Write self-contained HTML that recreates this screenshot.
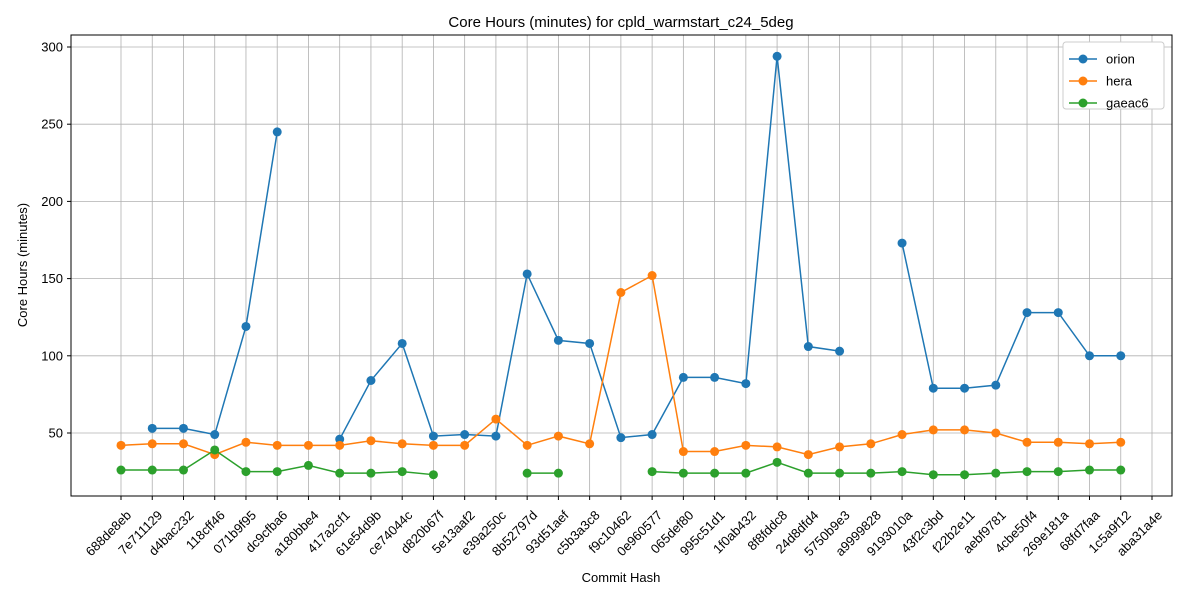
<!DOCTYPE html>
<html><head><meta charset="utf-8"><style>
body{margin:0;background:#fff;}
svg{font-family:"Liberation Sans","DejaVu Sans",sans-serif;}
</style></head><body>
<svg id="chart" width="1200" height="600" xmlns="http://www.w3.org/2000/svg">
<rect width="1200" height="600" fill="#fff"/>
<text x="621" y="27" font-size="15" text-anchor="middle">Core Hours (minutes) for cpld_warmstart_c24_5deg</text>
<g id="grid"></g>
<g id="series"></g>
<rect x="71" y="35" width="1101" height="461" fill="none" stroke="#000" stroke-width="1"/>
<text x="621" y="582" font-size="13" text-anchor="middle">Commit Hash</text>
<text transform="translate(27,265) rotate(-90)" font-size="13" text-anchor="middle">Core Hours (minutes)</text>
<g id="legend">
<rect x="1063" y="42" width="101" height="67" fill="#fff" stroke="#ccc" rx="3"/>
</g>
</svg>
<script>
const categories=["688de8eb","7e711129","d4bac232","118cff46","071b9f95","dc9cfba6","a180bbe4","417a2cf1","61e54d9b","ce74044c","d820b67f","5e13aaf2","e39a250c","8b52797d","93d51aef","c5b3a3c8","f9c10462","0e960577","065def80","995c51d1","1f0ab432","8f8fddc8","24d8dfd4","5750b9e3","a9999828","9193010a","43f2c3bd","f22b2e11","aebf9781","4cbe50f4","269e181a","68fd7faa","1c5a9f12","aba31a4e"];
const orion=[null,53,53,49,119,245,null,46,84,108,48,49,48,153,110,108,47,49,86,86,82,294,106,103,null,173,79,79,81,128,128,100,100,null];
const hera=[42,43,43,36,44,42,42,42,45,43,42,42,59,42,48,43,141,152,38,38,42,41,36,41,43,49,52,52,50,44,44,43,44,null];
const gaea=[26,26,26,39,25,25,29,24,24,25,23,null,null,24,24,null,null,25,24,24,24,31,24,24,24,25,23,23,24,25,25,26,26,null];
const yTicks=[50,100,150,200,250,300];
const seriesNames=["orion","hera","gaeac6"];
const colors=["#1f77b4","#ff7f0e","#2ca02c"];
const NS="http://www.w3.org/2000/svg";
function xs(i){return 121+i*(1152-121)/(categories.length-1);}
function ys(v){return 433-(v-50)*386/250;}
function mk(tag,attrs,parent){const e=document.createElementNS(NS,tag);for(const k in attrs)e.setAttribute(k,attrs[k]);parent.appendChild(e);return e;}
const grid=document.getElementById('grid');
const svg=document.getElementById('chart');
categories.forEach((c,i)=>{
  const x=xs(i);
  const g=mk('line',{x1:x,x2:x,y1:35,y2:496,stroke:'#b0b0b0','stroke-width':0.8},grid);
  
  
  mk('line',{x1:x,x2:x,y1:496,y2:500,stroke:'#000'},grid);
  const ax=x+11, ay=516;
  const t=mk('text',{x:ax,y:ay,'font-size':13,'text-anchor':'end',transform:`rotate(-45 ${ax} ${ay})`},svg);
  t.textContent=c;
  
  
});
yTicks.forEach(v=>{
  const y=ys(v);
  const g=mk('line',{x1:71,x2:1172,y1:y,y2:y,stroke:'#b0b0b0','stroke-width':0.8},grid);
  
  
  mk('line',{x1:67,x2:71,y1:y,y2:y,stroke:'#000'},grid);
  const t=mk('text',{x:63,y:y+4.5,'font-size':13,'text-anchor':'end'},svg);
  t.textContent=v;
  
  
});
const ser=document.getElementById('series');
[orion,hera,gaea].forEach((data,si)=>{
  const g=mk('g',{},ser);
  
  
  let d='',pen=false;
  data.forEach((v,i)=>{
    if(v==null){pen=false;return;}
    d+=(pen?'L':'M')+xs(i)+' '+ys(v)+' ';pen=true;
  });
  mk('path',{d:d,fill:'none',stroke:colors[si],'stroke-width':1.5},g);
  data.forEach((v,i)=>{
    if(v==null)return;
    const c=mk('circle',{cx:xs(i),cy:ys(v),r:4.5,fill:colors[si]},g);
    
    
  });
});
const leg=document.getElementById('legend');
seriesNames.forEach((n,i)=>{
  const y=59+i*22;
  const e=mk('g',{},leg);
  
  
  mk('line',{x1:1069,x2:1097,y1:y,y2:y,stroke:colors[i],'stroke-width':1.5},e);
  mk('circle',{cx:1083,cy:y,r:4.5,fill:colors[i]},e);
  const t=mk('text',{x:1106,y:y+4.5,'font-size':13},e);
  t.textContent=n;
});
</script>
</body></html>
